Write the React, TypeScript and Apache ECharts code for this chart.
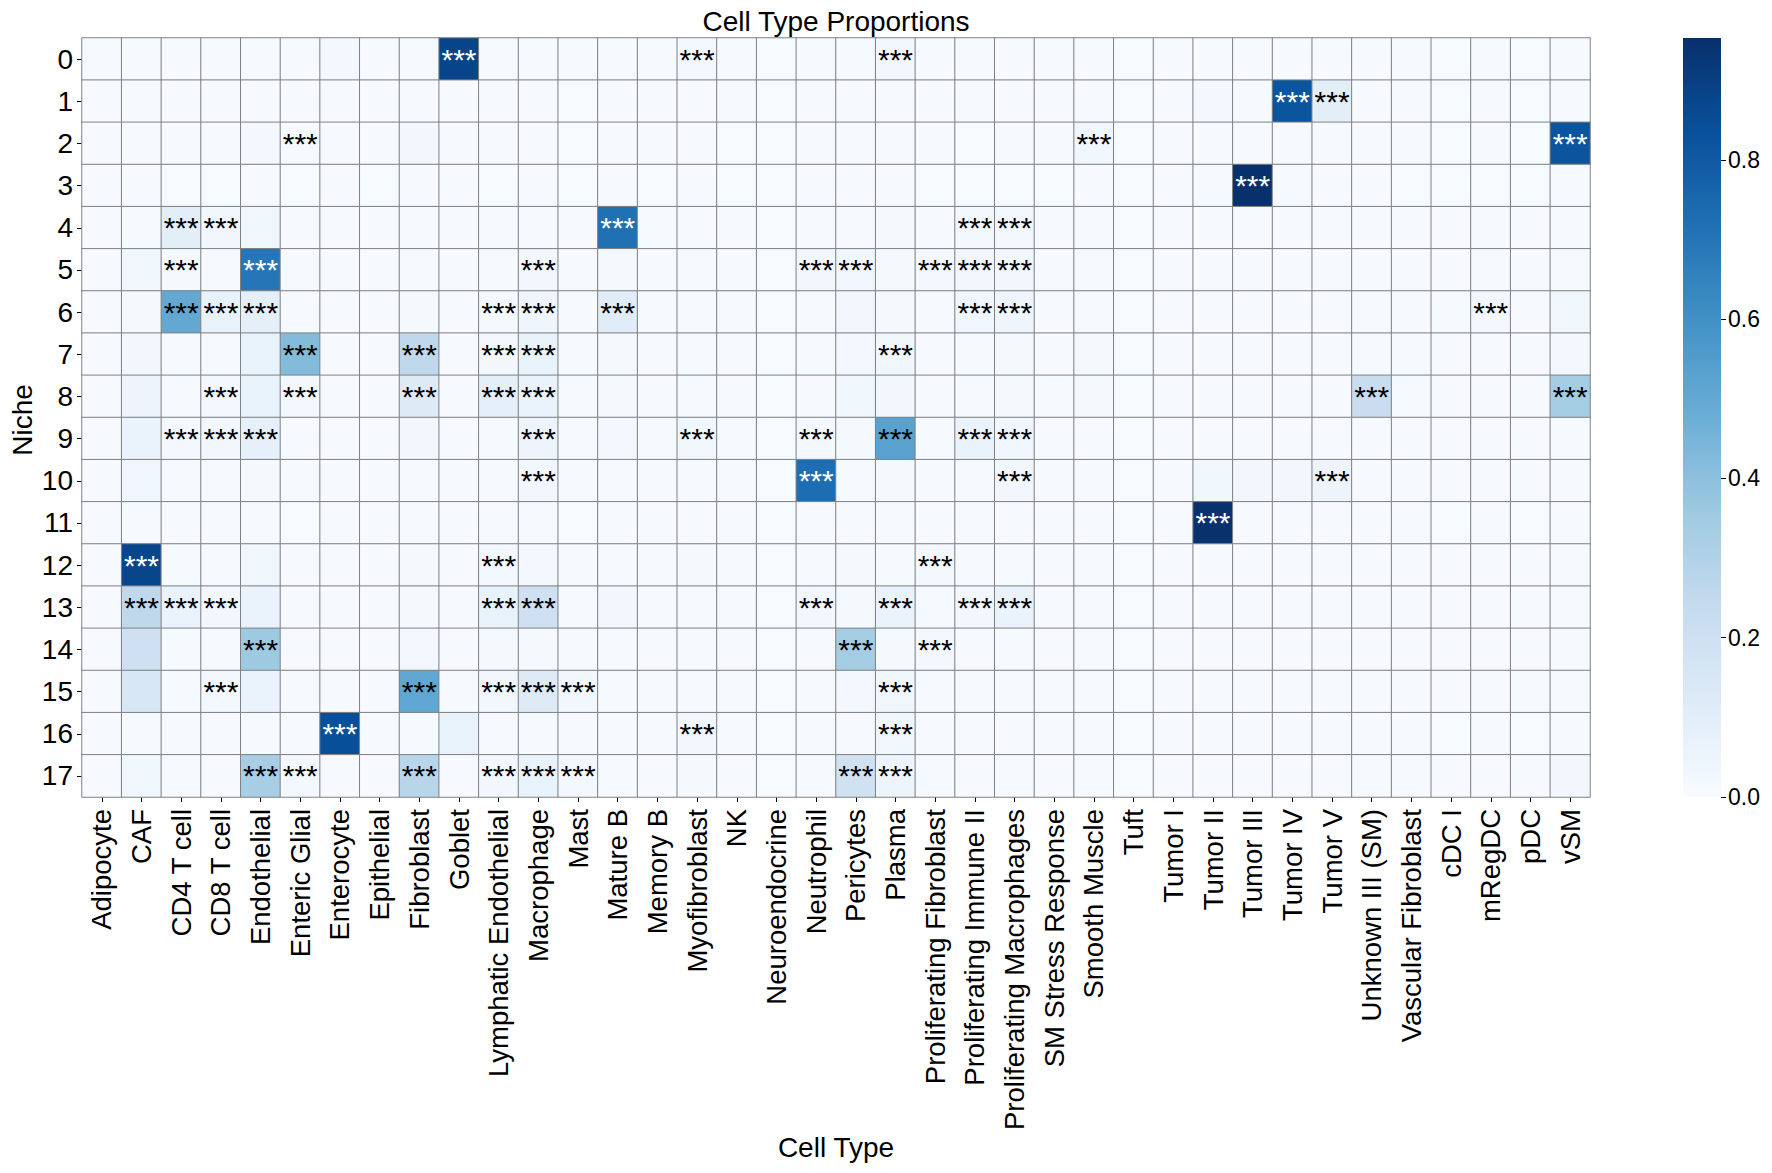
import React, { useEffect, useRef } from "react";
import * as echarts from "echarts";

// Column categories (cell types) along the x axis
const cellTypes = [
  "Adipocyte", "CAF", "CD4 T cell", "CD8 T cell", "Endothelial", "Enteric Glial",
  "Enterocyte", "Epithelial", "Fibroblast", "Goblet", "Lymphatic Endothelial",
  "Macrophage", "Mast", "Mature B", "Memory B", "Myofibroblast", "NK",
  "Neuroendocrine", "Neutrophil", "Pericytes", "Plasma", "Proliferating Fibroblast",
  "Proliferating Immune II", "Proliferating Macrophages", "SM Stress Response",
  "Smooth Muscle", "Tuft", "Tumor I", "Tumor II", "Tumor III", "Tumor IV", "Tumor V",
  "Unknown III (SM)", "Vascular Fibroblast", "cDC I", "mRegDC", "pDC", "vSM",
];

// Row categories (niches) along the y axis
const niches = ["0", "1", "2", "3", "4", "5", "6", "7", "8", "9", "10", "11", "12", "13", "14", "15", "16", "17"];

// Proportion of each cell type within each niche (one row per niche)
const proportions: number[][] = [
  [0.010, 0.008, 0.004, 0.004, 0.010, 0.004, 0.022, 0.004, 0.010, 0.880, 0.006, 0.010, 0.004, 0.008, 0.004, 0.025, 0.004, 0.003, 0.006, 0.010, 0.028, 0.004, 0.004, 0.004, 0.004, 0.006, 0.003, 0.004, 0.006, 0.004, 0.004, 0.004, 0.004, 0.004, 0.003, 0.004, 0.003, 0.006],
  [0.006, 0.008, 0.004, 0.004, 0.006, 0.004, 0.006, 0.004, 0.006, 0.006, 0.004, 0.006, 0.003, 0.006, 0.004, 0.006, 0.004, 0.003, 0.006, 0.006, 0.006, 0.004, 0.004, 0.004, 0.004, 0.006, 0.003, 0.006, 0.020, 0.008, 0.820, 0.100, 0.006, 0.004, 0.003, 0.004, 0.003, 0.006],
  [0.006, 0.006, 0.004, 0.004, 0.025, 0.006, 0.004, 0.004, 0.030, 0.004, 0.004, 0.006, 0.003, 0.004, 0.004, 0.006, 0.003, 0.003, 0.004, 0.008, 0.004, 0.004, 0.003, 0.004, 0.006, 0.040, 0.003, 0.004, 0.006, 0.004, 0.004, 0.006, 0.006, 0.006, 0.003, 0.004, 0.003, 0.820],
  [0.004, 0.006, 0.003, 0.003, 0.006, 0.003, 0.004, 0.003, 0.006, 0.004, 0.003, 0.006, 0.003, 0.004, 0.003, 0.004, 0.003, 0.003, 0.004, 0.004, 0.006, 0.003, 0.003, 0.003, 0.003, 0.004, 0.003, 0.004, 0.010, 0.953, 0.008, 0.006, 0.004, 0.003, 0.003, 0.003, 0.003, 0.004],
  [0.006, 0.008, 0.100, 0.030, 0.040, 0.004, 0.004, 0.004, 0.008, 0.004, 0.006, 0.010, 0.004, 0.720, 0.010, 0.006, 0.006, 0.003, 0.006, 0.006, 0.012, 0.004, 0.020, 0.025, 0.004, 0.006, 0.003, 0.004, 0.006, 0.004, 0.004, 0.004, 0.006, 0.004, 0.006, 0.008, 0.004, 0.006],
  [0.006, 0.040, 0.012, 0.008, 0.700, 0.006, 0.004, 0.004, 0.010, 0.004, 0.010, 0.030, 0.006, 0.012, 0.006, 0.010, 0.006, 0.003, 0.030, 0.035, 0.015, 0.020, 0.030, 0.030, 0.006, 0.008, 0.003, 0.004, 0.006, 0.004, 0.004, 0.004, 0.006, 0.006, 0.006, 0.008, 0.004, 0.008],
  [0.006, 0.012, 0.500, 0.070, 0.090, 0.006, 0.004, 0.004, 0.012, 0.004, 0.015, 0.045, 0.006, 0.110, 0.010, 0.010, 0.008, 0.003, 0.008, 0.030, 0.015, 0.008, 0.035, 0.045, 0.006, 0.010, 0.003, 0.004, 0.006, 0.004, 0.004, 0.004, 0.008, 0.006, 0.008, 0.020, 0.006, 0.040],
  [0.006, 0.030, 0.008, 0.008, 0.070, 0.420, 0.004, 0.006, 0.260, 0.004, 0.025, 0.070, 0.010, 0.012, 0.006, 0.010, 0.004, 0.003, 0.008, 0.020, 0.040, 0.006, 0.010, 0.015, 0.006, 0.012, 0.003, 0.004, 0.006, 0.004, 0.004, 0.004, 0.008, 0.008, 0.004, 0.006, 0.004, 0.020],
  [0.006, 0.050, 0.010, 0.020, 0.070, 0.025, 0.004, 0.006, 0.120, 0.004, 0.090, 0.060, 0.010, 0.012, 0.006, 0.010, 0.004, 0.003, 0.006, 0.040, 0.030, 0.006, 0.008, 0.012, 0.008, 0.015, 0.003, 0.004, 0.006, 0.004, 0.004, 0.004, 0.220, 0.010, 0.004, 0.006, 0.004, 0.340],
  [0.006, 0.060, 0.020, 0.030, 0.080, 0.006, 0.004, 0.004, 0.030, 0.004, 0.010, 0.050, 0.008, 0.020, 0.010, 0.040, 0.008, 0.003, 0.025, 0.015, 0.530, 0.008, 0.060, 0.035, 0.004, 0.006, 0.003, 0.004, 0.006, 0.004, 0.004, 0.004, 0.006, 0.004, 0.006, 0.006, 0.006, 0.006],
  [0.006, 0.035, 0.008, 0.008, 0.015, 0.004, 0.004, 0.004, 0.010, 0.004, 0.006, 0.030, 0.004, 0.008, 0.006, 0.010, 0.006, 0.003, 0.730, 0.008, 0.012, 0.006, 0.010, 0.030, 0.004, 0.006, 0.003, 0.004, 0.040, 0.030, 0.030, 0.050, 0.006, 0.004, 0.004, 0.004, 0.004, 0.006],
  [0.006, 0.010, 0.004, 0.004, 0.008, 0.003, 0.004, 0.004, 0.008, 0.004, 0.004, 0.008, 0.003, 0.006, 0.004, 0.006, 0.004, 0.003, 0.006, 0.006, 0.006, 0.004, 0.004, 0.004, 0.004, 0.006, 0.003, 0.004, 0.945, 0.006, 0.006, 0.006, 0.004, 0.004, 0.003, 0.004, 0.003, 0.006],
  [0.006, 0.875, 0.008, 0.006, 0.040, 0.006, 0.004, 0.004, 0.015, 0.004, 0.020, 0.025, 0.004, 0.010, 0.004, 0.012, 0.004, 0.003, 0.006, 0.015, 0.010, 0.025, 0.006, 0.008, 0.004, 0.008, 0.003, 0.004, 0.006, 0.004, 0.004, 0.004, 0.006, 0.006, 0.004, 0.004, 0.004, 0.008],
  [0.006, 0.260, 0.060, 0.030, 0.060, 0.006, 0.004, 0.004, 0.015, 0.004, 0.070, 0.200, 0.010, 0.030, 0.010, 0.010, 0.008, 0.003, 0.030, 0.015, 0.060, 0.010, 0.030, 0.060, 0.004, 0.006, 0.003, 0.004, 0.006, 0.004, 0.004, 0.004, 0.006, 0.004, 0.006, 0.006, 0.004, 0.010],
  [0.006, 0.200, 0.008, 0.006, 0.360, 0.006, 0.004, 0.004, 0.020, 0.004, 0.015, 0.015, 0.006, 0.008, 0.004, 0.010, 0.004, 0.003, 0.006, 0.340, 0.015, 0.025, 0.006, 0.008, 0.004, 0.008, 0.003, 0.004, 0.006, 0.004, 0.004, 0.004, 0.006, 0.004, 0.004, 0.004, 0.004, 0.010],
  [0.006, 0.150, 0.008, 0.025, 0.060, 0.006, 0.004, 0.004, 0.510, 0.004, 0.030, 0.120, 0.030, 0.010, 0.006, 0.010, 0.004, 0.003, 0.006, 0.020, 0.040, 0.010, 0.006, 0.010, 0.004, 0.008, 0.003, 0.004, 0.006, 0.004, 0.004, 0.004, 0.006, 0.006, 0.004, 0.004, 0.004, 0.010],
  [0.006, 0.010, 0.004, 0.004, 0.010, 0.004, 0.840, 0.004, 0.010, 0.070, 0.006, 0.010, 0.004, 0.008, 0.004, 0.030, 0.004, 0.003, 0.004, 0.006, 0.040, 0.004, 0.004, 0.004, 0.004, 0.006, 0.003, 0.004, 0.006, 0.004, 0.004, 0.004, 0.004, 0.004, 0.003, 0.004, 0.003, 0.006],
  [0.006, 0.040, 0.008, 0.006, 0.330, 0.020, 0.004, 0.006, 0.280, 0.004, 0.030, 0.070, 0.020, 0.010, 0.006, 0.012, 0.004, 0.003, 0.008, 0.190, 0.050, 0.010, 0.006, 0.010, 0.004, 0.010, 0.003, 0.004, 0.006, 0.004, 0.004, 0.004, 0.008, 0.008, 0.004, 0.006, 0.004, 0.030],
];

// Column indices of cell types with significant enrichment (***), per niche
const significantCells: number[][] = [
  [9, 15, 20],
  [30, 31],
  [5, 25, 37],
  [29],
  [2, 3, 13, 22, 23],
  [2, 4, 11, 18, 19, 21, 22, 23],
  [2, 3, 4, 10, 11, 13, 22, 23, 35],
  [5, 8, 10, 11, 20],
  [3, 5, 8, 10, 11, 32, 37],
  [2, 3, 4, 11, 15, 18, 20, 22, 23],
  [11, 18, 23, 31],
  [28],
  [1, 10, 21],
  [1, 2, 3, 10, 11, 18, 20, 22, 23],
  [4, 19, 21],
  [3, 8, 10, 11, 12, 20],
  [6, 15, 20],
  [4, 5, 8, 10, 11, 12, 19, 20],
];

// Colour bar tick values
const colorbarTicks = [0, 0.2, 0.4, 0.6, 0.8];

// Sequential "Blues" palette, light to dark
const blues = ["#f7fbff", "#deebf7", "#c6dbef", "#9ecae1", "#6baed6", "#4292c6", "#2171b5", "#08519c", "#08306b"];

const FONT = "'Liberation Sans', Arial, Helvetica, sans-serif";
const GRID = { left: 82, top: 38, width: 1508, height: 759 };
const BAR = { left: 1683, top: 38, width: 38, height: 759 };
const VMAX = Math.max(...proportions.map((r) => Math.max(...r)));
const LIGHT_TEXT_ABOVE = 0.6;

export default function App() {
  const ref = useRef<HTMLDivElement>(null);

  useEffect(() => {
    const chart = echarts.init(ref.current!, null, { renderer: "svg" });

    const cells: any[] = [];
    proportions.forEach((row, r) => {
      row.forEach((v, c) => {
        cells.push({
          value: [c, r, v],
          label: { color: v > LIGHT_TEXT_ABOVE ? "#ffffff" : "#000000" },
        });
      });
    });

    const gradient = new echarts.graphic.LinearGradient(
      0, 1, 0, 0,
      blues.map((color, i) => ({ offset: i / (blues.length - 1), color }))
    );

    const option: any = {
      animation: false,
      backgroundColor: "#ffffff",
      textStyle: { fontFamily: FONT },
      grid: [
        { ...GRID, outerBoundsMode: "none", containLabel: false },
        { ...BAR, outerBoundsMode: "none", containLabel: false },
      ],
      xAxis: [
        {
          type: "category",
          gridIndex: 0,
          data: cellTypes,
          position: "bottom",
          axisLine: { show: false },
          axisTick: { show: true, alignWithLabel: true, length: 5, lineStyle: { color: "#000", width: 1 } },
          axisLabel: {
            interval: 0,
            rotate: 90,
            margin: 12,
            fontSize: 27.5,
            color: "#000",
            fontFamily: FONT,
          },
          splitLine: { show: false },
        },
        { type: "value", gridIndex: 1, min: 0, max: 1, show: false },
      ],
      yAxis: [
        {
          type: "category",
          gridIndex: 0,
          data: niches,
          inverse: true,
          axisLine: { show: false },
          axisTick: { show: true, alignWithLabel: true, length: 5, lineStyle: { color: "#000", width: 1 } },
          axisLabel: { interval: 0, margin: 9, fontSize: 28, color: "#000", fontFamily: FONT },
          splitLine: { show: false },
        },
        {
          type: "value",
          gridIndex: 1,
          position: "right",
          min: 0,
          max: VMAX,
          interval: 0.2,
          axisLine: { show: false, onZero: false },
          splitLine: { show: false },
          axisTick: {
            show: true,
            inside: false,
            length: 5,
            customValues: colorbarTicks,
            lineStyle: { color: "#000", width: 1 },
          },
          axisLabel: {
            customValues: colorbarTicks,
            formatter: (v: number) => v.toFixed(1),
            margin: 7,
            fontSize: 23,
            color: "#000",
            fontFamily: FONT,
          },
        },
      ],
      visualMap: {
        show: false,
        type: "continuous",
        min: 0,
        max: VMAX,
        dimension: 2,
        seriesIndex: 0,
        inRange: { color: blues },
      },
      series: [
        {
          type: "heatmap",
          xAxisIndex: 0,
          yAxisIndex: 0,
          data: cells,
          itemStyle: { borderColor: "#808080", borderWidth: 1 },
          emphasis: { disabled: true },
          label: {
            show: true,
            fontSize: 30,
            fontFamily: FONT,
            formatter: (p: any) => {
              const [c, r] = p.value;
              return significantCells[r].includes(c) ? "***" : "";
            },
          },
        },
        {
          type: "custom",
          xAxisIndex: 1,
          yAxisIndex: 1,
          silent: true,
          z: 1,
          data: [[0, VMAX]],
          renderItem: (_params: any, api: any) => {
            const lo = api.coord([0, 0]);
            const hi = api.coord([1, VMAX]);
            return {
              type: "rect",
              shape: { x: lo[0], y: hi[1], width: hi[0] - lo[0], height: lo[1] - hi[1] },
              style: { fill: gradient },
            };
          },
        },
      ],
      graphic: [
        {
          type: "text",
          x: GRID.left + GRID.width / 2,
          y: 21,
          style: {
            text: "Cell Type Proportions",
            fontSize: 28,
            fontFamily: FONT,
            fill: "#000",
            align: "center",
            verticalAlign: "middle",
          },
        },
        {
          type: "text",
          x: GRID.left + GRID.width / 2,
          y: 1147,
          style: {
            text: "Cell Type",
            fontSize: 28,
            fontFamily: FONT,
            fill: "#000",
            align: "center",
            verticalAlign: "middle",
          },
        },
        {
          type: "text",
          x: 22,
          y: 420,
          rotation: Math.PI / 2,
          style: {
            text: "Niche",
            fontSize: 28,
            fontFamily: FONT,
            fill: "#000",
            align: "center",
            verticalAlign: "middle",
          },
        },
      ],
    };

    chart.setOption(option);
    return () => chart.dispose();
  }, []);

  return (
    <div
      ref={ref}
      style={{ position: "absolute", left: 0, top: 0, width: 1772, height: 1173, background: "#fff" }}
    />
  );
}
